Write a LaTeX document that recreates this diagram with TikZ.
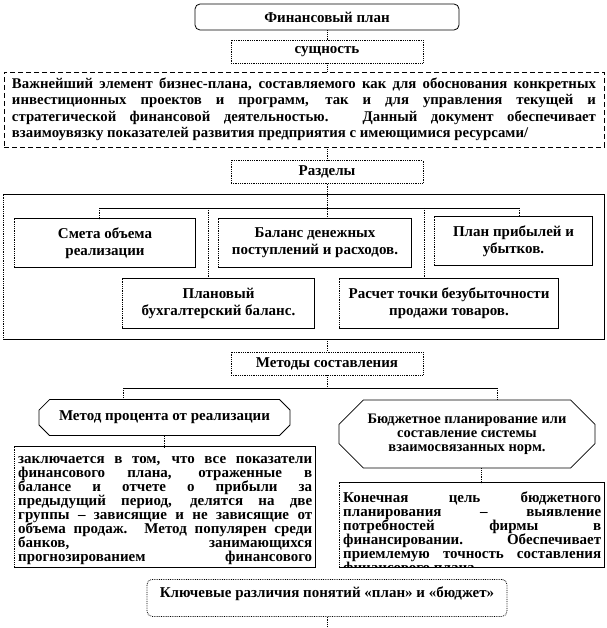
\documentclass[tikz,border=0pt]{standalone}
\usepackage{fontspec}
\setmainfont{Liberation Serif}
\usetikzlibrary{positioning, shapes.misc}

\begin{document}
\begin{tikzpicture}[
  x=1pt, y=-1pt,
  font=\bfseries\fontsize{15}{17}\selectfont,
  solidside/.style={draw, line width=0.8pt, line cap=rect},
  dotside/.style={draw, line width=0.8pt, densely dotted},
  lbox/.style={align=center, inner sep=2pt, append after command={
      (\tikzlastnode.north west) edge[dotside] (\tikzlastnode.south west)
      (\tikzlastnode.south west) edge[solidside] (\tikzlastnode.south east)
      (\tikzlastnode.south east) edge[solidside] (\tikzlastnode.north east)
      (\tikzlastnode.north east) edge[solidside] (\tikzlastnode.north west)}},
  dotbox/.style={draw, line width=0.8pt, densely dotted, align=center,
                 minimum width=192pt, minimum height=23pt, inner sep=1pt},
  octo/.style={draw, line width=0.8pt, chamfered rectangle, align=center, inner sep=1pt},
  conn/.style={line width=0.8pt, densely dotted},
  bus/.style={line width=0.8pt}
]
\useasboundingbox (0,0) rectangle (606,628);

% top part
\node[draw, line width=0.8pt, rounded corners=5pt, minimum width=264pt,
      minimum height=26pt] (plan) at (327,17) {Финансовый план};
\node[dotbox] (essence) at (327,51.5) {сущность};
\node[draw, line width=0.8pt, dash pattern=on 5pt off 3pt, minimum width=600pt,
      minimum height=75pt, text width=584pt, align=justify, inner sep=0pt,
      font=\bfseries\fontsize{14.8}{16.5}\selectfont] (descr) at (304,109.5)
  {Важнейший элемент бизнес-плана, составляемого как для обоснования конкретных\linebreak
   инвестиционных проектов и программ, так и для управления текущей и\linebreak
   стратегической финансовой деятельностью. Данный документ обеспечивает\linebreak
   взаимоувязку показателей развития предприятия с имеющимися ресурсами/};

% sections
\node[dotbox] (sections) at (327,172) {Разделы};
\node[lbox, inner sep=0pt, minimum width=600pt, minimum height=144pt] (frame) at (304,267) {};
\node[lbox, minimum width=180pt, minimum height=48pt] (s1) at (105,243) {Смета объема\\реализации};
\node[lbox, minimum width=192pt, minimum height=48pt] (s2) at (315,243) {Баланс денежных\\поступлений и расходов.};
\node[lbox, minimum width=157pt, minimum height=48pt] (s3) at (513.5,241) {План прибылей и\\убытков.};
\node[lbox, minimum width=191pt, minimum height=49pt] (s4) at (218.5,303.5) {Плановый\\бухгалтерский  баланс.};
\node[lbox, minimum width=218pt, minimum height=49pt] (s5) at (449,303.5) {Расчет точки безубыточности\\продажи товаров.};

% methods
\node[dotbox] (methods) at (327,363.5) {Методы составления};
\node[octo, minimum width=251pt, minimum height=36pt, chamfered rectangle xsep=16pt]
  (m1) at (164.5,417.5) {Метод процента от реализации};
\node[octo, minimum width=256pt, minimum height=68pt, chamfered rectangle xsep=23pt,
      font=\bfseries\fontsize{14.5}{14}\selectfont]
  (m2) at (467,434) {Бюджетное планирование или\\составление системы\\взаимосвязанных норм.};
\node[lbox, fill=white, inner sep=0pt, minimum width=300pt, minimum height=120pt,
      path picture={\node[anchor=north west, inner sep=3pt, text width=294pt,
        align=justify, font=\bfseries\fontsize{15}{14}\selectfont] (t1text)
        at ([yshift=-6pt]path picture bounding box.north west)
        {заключается в том, что все показатели\linebreak
         финансового плана, отраженные в\linebreak
         балансе и отчете о прибыли за\linebreak
         предыдущий период, делятся на две\linebreak
         группы – зависящие и не зависящие от\linebreak
         объема продаж. Метод популярен среди\linebreak
         банков, занимающихся\linebreak
         прогнозированием финансового\linebreak
         потока.};}] (t1) at (165,507) {};
\node[lbox, fill=white, inner sep=0pt, minimum width=264pt, minimum height=84pt,
      path picture={\node[anchor=north west, inner sep=3pt, text width=258pt,
        align=justify, font=\bfseries\fontsize{15}{14}\selectfont] (t2text)
        at ([yshift=-6pt]path picture bounding box.north west)
        {Конечная цель бюджетного\linebreak
         планирования – выявление\linebreak
         потребностей фирмы в\linebreak
         финансировании. Обеспечивает\linebreak
         приемлемую точность составления\linebreak
         финансового плана.};}] (t2) at (472,525) {};

% bottom
\node[draw, line width=0.8pt, densely dotted, rounded corners=5pt, minimum width=360pt,
      text height=16pt, text depth=17pt, inner ysep=2pt, anchor=north] (diff) at (327,579)
  {Ключевые различия понятий «план» и «бюджет»};
\coordinate (end) at (327,628);

% connectors
\coordinate (b1) at (99,208);
\coordinate (b4) at (208,208);
\coordinate (b5) at (424,208);
\coordinate (b3) at (519,208);
\coordinate (c1) at (123,388);
\coordinate (c2) at (497,388);
\draw[conn] (plan) -- (essence);
\draw[conn] (essence) -- (essence |- descr.north);
\draw[conn] (sections.north |- descr.south) -- (sections.north);
\draw[conn] (sections.south) -- (sections.south |- s2.north);
\draw[bus] (b1) -- (b3);
\draw[conn] (b1) -- (b1 |- s1.north);
\draw[conn] (b4) -- (b4 |- s4.north);
\draw[conn] (b5) -- (b5 |- s5.north);
\draw[conn] (b3) -- (b3 |- s3.north);
\draw[conn] (sections.south |- frame.south) -- (methods.north);
\draw[conn] (methods.south) -- (methods.south |- c1);
\draw[bus] (c1) -- (c2);
\draw[conn] (c1) -- (c1 |- m1.north);
\draw[conn] (c2) -- (c2 |- m2.north);
\draw[conn] (m1.south) -- (m1.south |- t1.north);
\draw[conn] ([xshift=14pt]m2.south) -- ([xshift=14pt]m2.south |- t2.north);
\draw[conn] (diff.south) -- (end);
\end{tikzpicture}
\end{document}
